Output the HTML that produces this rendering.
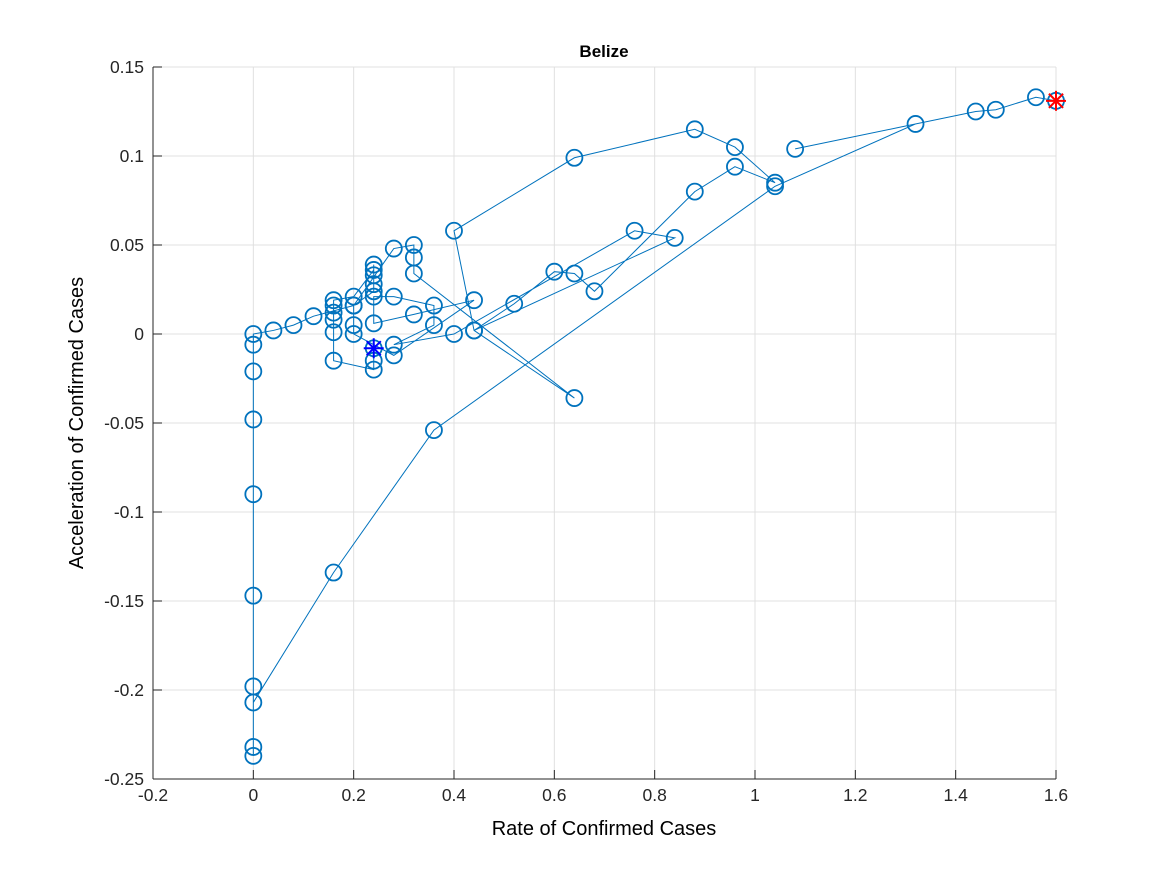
<!DOCTYPE html>
<html><head><meta charset="utf-8"><style>
body{margin:0;background:#fff;}
svg text{font-family:"Liberation Sans",sans-serif;}
</style></head><body>
<svg id="chart" width="1167" height="875" xmlns="http://www.w3.org/2000/svg">
<rect width="1167" height="875" fill="#fff"/>
<g id="grid"></g><g id="axes"></g><g id="series"></g>
<text x="604" y="57" text-anchor="middle" font-size="17" font-weight="bold">Belize</text>
<text x="604" y="835" text-anchor="middle" font-size="20">Rate of Confirmed Cases</text>
<text transform="translate(83,423) rotate(-90)" text-anchor="middle" font-size="20">Acceleration of Confirmed Cases</text>
</svg>
<script>
const xTicks=[-0.2,0,0.2,0.4,0.6,0.8,1,1.2,1.4,1.6];
const xTickLabels=["-0.2","0","0.2","0.4","0.6","0.8","1","1.2","1.4","1.6"];
const yTicks=[-0.25,-0.2,-0.15,-0.1,-0.05,0,0.05,0.1,0.15];
const yTickLabels=["-0.25","-0.2","-0.15","-0.1","-0.05","0","0.05","0.1","0.15"];
const rateX=[0.24,0.24,0.24,0.16,0.16,0.16,0.16,0.16,0.16,0.2,0.24,0.24,0.24,0.24,0.24,0.2,0.2,0.2,0.28,0.44,0.32,0.24,0.24,0.28,0.36,0.36,0.28,0.4,0.76,0.84,0.44,0.52,0.6,0.64,0.68,0.88,0.96,1.04,0.96,0.88,0.64,0.4,0.44,0.64,0.32,0.32,0.32,0.28,0.2,0.12,0.08,0.04,0,0,0,0,0,0,0,0,0,0,0.16,0.36,1.04,1.32,1.08,1.44,1.48,1.56,1.6];
const accelY=[-0.008,-0.015,-0.02,-0.015,0.001,0.008,0.012,0.016,0.019,0.021,0.036,0.039,0.033,0.028,0.024,0.016,0.005,0.0,-0.012,0.019,0.011,0.006,0.021,0.021,0.016,0.005,-0.006,0.0,0.058,0.054,0.002,0.017,0.035,0.034,0.024,0.08,0.094,0.085,0.105,0.115,0.099,0.058,0.002,-0.036,0.034,0.043,0.05,0.048,0.016,0.01,0.005,0.002,0,-0.006,-0.021,-0.048,-0.09,-0.147,-0.198,-0.232,-0.237,-0.207,-0.134,-0.054,0.083,0.118,0.104,0.125,0.126,0.133,0.131];
const NS="http://www.w3.org/2000/svg";
const X0=153,X1=1056,Y0=779,Y1=67;
function sx(v){return X0+(v+0.2)/1.8*(X1-X0);}
function sy(v){return Y0-(v+0.25)/0.4*(Y0-Y1);}
function mk(t,a,p){const e=document.createElementNS(NS,t);for(const k in a)e.setAttribute(k,a[k]);p.appendChild(e);return e;}
const grid=document.getElementById('grid'),axes=document.getElementById('axes'),ser=document.getElementById('series');
xTicks.forEach((v,i)=>{
 const g=mk('line',{x1:sx(v),x2:sx(v),y1:Y1,y2:Y0,stroke:'#e0e0e0','stroke-width':1},grid);
 
 
 mk('line',{x1:sx(v),x2:sx(v),y1:Y0,y2:Y0-9,stroke:'#262626'},axes);
 const t=mk('text',{x:sx(v),y:Y0+22,'text-anchor':'middle','font-size':17.5,fill:'#262626'},axes);
 t.textContent=xTickLabels[i];
 
 
});
yTicks.forEach((v,i)=>{
 const g=mk('line',{x1:X0,x2:X1,y1:sy(v),y2:sy(v),stroke:'#e0e0e0','stroke-width':1},grid);
 
 
 mk('line',{x1:X0,x2:X0+9,y1:sy(v),y2:sy(v),stroke:'#262626'},axes);
 const t=mk('text',{x:X0-9,y:sy(v)+6,'text-anchor':'end','font-size':17.5,fill:'#262626'},axes);
 t.textContent=yTickLabels[i];
 
 
});
mk('line',{x1:X0,x2:X0,y1:Y1,y2:Y0,stroke:'#262626'},axes);
mk('line',{x1:X0,x2:X1,y1:Y0,y2:Y0,stroke:'#262626'},axes);
const pts=rateX.map((v,i)=>sx(v)+','+sy(accelY[i])).join(' ');
const pl=mk('polyline',{points:pts,fill:'none',stroke:'#0072BD','stroke-width':1},ser);


rateX.forEach((v,i)=>{
 const c=mk('circle',{cx:sx(v),cy:sy(accelY[i]),r:8,fill:'none',stroke:'#0072BD','stroke-width':1.8},ser);
 
 
});
function star(x,y,col,name){
 const g=mk('g',{stroke:col,'stroke-width':2},ser);
 
 
 for(let k=0;k<4;k++){const a=k*Math.PI/4;mk('line',{x1:x-10*Math.cos(a),y1:y-10*Math.sin(a),x2:x+10*Math.cos(a),y2:y+10*Math.sin(a)},g);}
}
star(sx(rateX[0]),sy(accelY[0]),'#0000ff','start-marker');
star(sx(rateX[rateX.length-1]),sy(accelY[accelY.length-1]),'#ff0000','end-marker');
</script>
</body></html>
